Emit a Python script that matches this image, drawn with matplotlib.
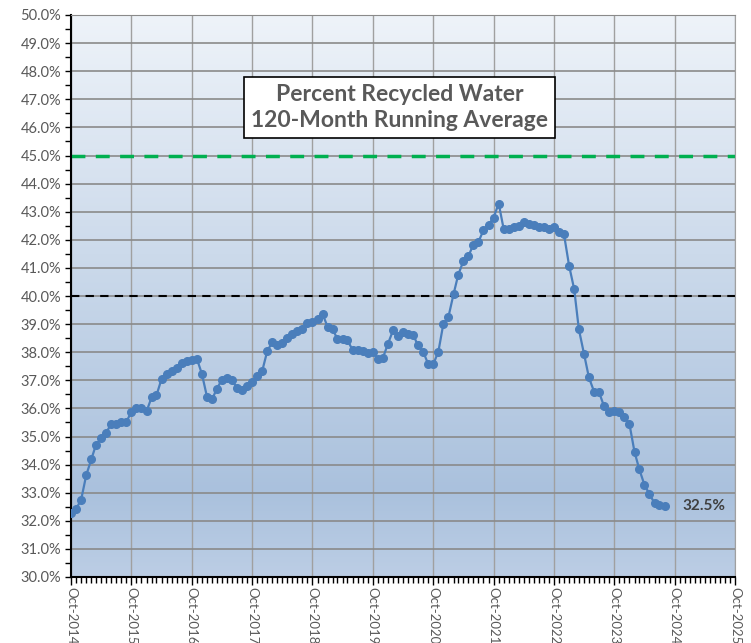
import numpy as np
import pandas as pd
import matplotlib
matplotlib.use('Agg')
import matplotlib.pyplot as plt
import matplotlib.dates as mdates
from matplotlib.colors import LinearSegmentedColormap
from matplotlib.ticker import MultipleLocator, FuncFormatter

# monthly values, Oct-2014 .. Aug-2024
start_month = '2014-10-01'
pct_recycled = [
    32.26, 32.43, 32.74, 33.62, 34.19, 34.70, 34.93, 35.13, 35.44, 35.46,
    35.53, 35.53, 35.86, 36.01, 36.03, 35.89, 36.40, 36.46, 37.05, 37.24,
    37.34, 37.43, 37.62, 37.70, 37.74, 37.76, 37.23, 36.41, 36.32, 36.70,
    37.01, 37.09, 37.01, 36.73, 36.65, 36.81, 36.94, 37.15, 37.33, 38.05,
    38.36, 38.27, 38.33, 38.52, 38.66, 38.74, 38.84, 39.04, 39.09, 39.17,
    39.36, 38.90, 38.81, 38.47, 38.46, 38.42, 38.08, 38.07, 38.03, 37.97,
    38.02, 37.76, 37.79, 38.30, 38.78, 38.58, 38.72, 38.66, 38.62, 38.24,
    38.02, 37.57, 37.57, 38.02, 39.00, 39.26, 40.07, 40.75, 41.24, 41.41,
    41.83, 41.92, 42.34, 42.54, 42.79, 43.29, 42.39, 42.40, 42.45, 42.49,
    42.64, 42.58, 42.52, 42.47, 42.44, 42.39, 42.44, 42.26, 42.20, 41.08,
    40.24, 38.82, 37.95, 37.10, 36.60, 36.58, 36.07, 35.87, 35.89, 35.87,
    35.70, 35.45, 34.45, 33.83, 33.28, 32.95, 32.63, 32.57, 32.51,
]
goal_line = 45.0
ref_line = 40.0
last_label = '32.5%'
title_lines = ['Percent Recycled Water', '120-Month Running Average']

months = pd.date_range(start_month, periods=len(pct_recycled), freq='MS')

fig = plt.figure(figsize=(7.51, 6.43), dpi=100)
ax = fig.add_axes([71/751, 1-577/643, (735-71)/751, (577-15)/643])

# gradient plot area
cmap = LinearSegmentedColormap.from_list('bg', [(0, '#bccee5'), (0.15, '#aac1dd'), (1, '#eef3f9')])
grad = np.linspace(0, 1, 256).reshape(-1, 1)
ax.imshow(grad, cmap=cmap, aspect='auto', extent=[0, 1, 0, 1], origin='lower',
          transform=ax.transAxes, zorder=0)

x0 = mdates.date2num(pd.Timestamp('2014-10-01'))
x1 = mdates.date2num(pd.Timestamp('2025-10-01'))
ax.set_xlim(x0, x1)
ax.set_ylim(30, 50)

ax.grid(True, axis='y', color='#8a8a8a', lw=1.2, zorder=1)
ax.grid(True, axis='x', color='#a0a0a0', lw=1.0, zorder=1)

ax.axhline(goal_line, color='#00b050', lw=2.5, ls=(0, (4, 3)), zorder=2)
ax.axhline(ref_line, color='black', lw=1.5, ls=(0, (4, 3)), zorder=2)

ax.plot(months, pct_recycled, color='#4a7ebb', lw=1.6, marker='o', ms=5.5,
        mec='#4a7ebb', mfc='#4a7ebb', zorder=3)

ax.annotate(last_label, xy=(months[-1], pct_recycled[-1]), xytext=(13, 0),
            textcoords='offset points', va='center', ha='left',
            fontsize=11, fontweight='bold', color='#404040', family='Lato')

ax.text(0.495, 0.836, '\n'.join(title_lines), transform=ax.transAxes,
        ha='center', va='center', fontsize=16.5, fontweight='bold', color='#595959',
        family='Lato', linespacing=1.3,
        bbox=dict(boxstyle='square,pad=0.3', fc='white', ec='black', lw=1.2), zorder=5)

# axes
ax.xaxis.set_major_locator(mdates.MonthLocator(bymonth=10))
ax.xaxis.set_minor_locator(mdates.MonthLocator())
ax.xaxis.set_major_formatter(mdates.DateFormatter('%b-%Y'))
ax.yaxis.set_major_locator(MultipleLocator(1))
ax.yaxis.set_minor_locator(MultipleLocator(0.5))
ax.yaxis.set_major_formatter(FuncFormatter(lambda v, p: f'{v:.1f}%'))

for lab in ax.get_xticklabels():
    lab.set_rotation(-90)
    lab.set_family('Lato')
for lab in ax.get_yticklabels():
    lab.set_family('Lato')
ax.tick_params(axis='x', which='major', length=6, width=1, labelsize=9.5, labelcolor='#595959', pad=1)
ax.tick_params(axis='x', which='minor', length=4, width=1)
ax.tick_params(axis='y', which='both', length=4, width=1, labelsize=10.5, labelcolor='#595959', pad=3)

ax.spines['top'].set_color('#8a8a8a')
ax.spines['right'].set_color('#a0a0a0')
ax.spines['left'].set_linewidth(1.5)
ax.spines['bottom'].set_linewidth(1.5)

fig.savefig('out.png', dpi=100)
